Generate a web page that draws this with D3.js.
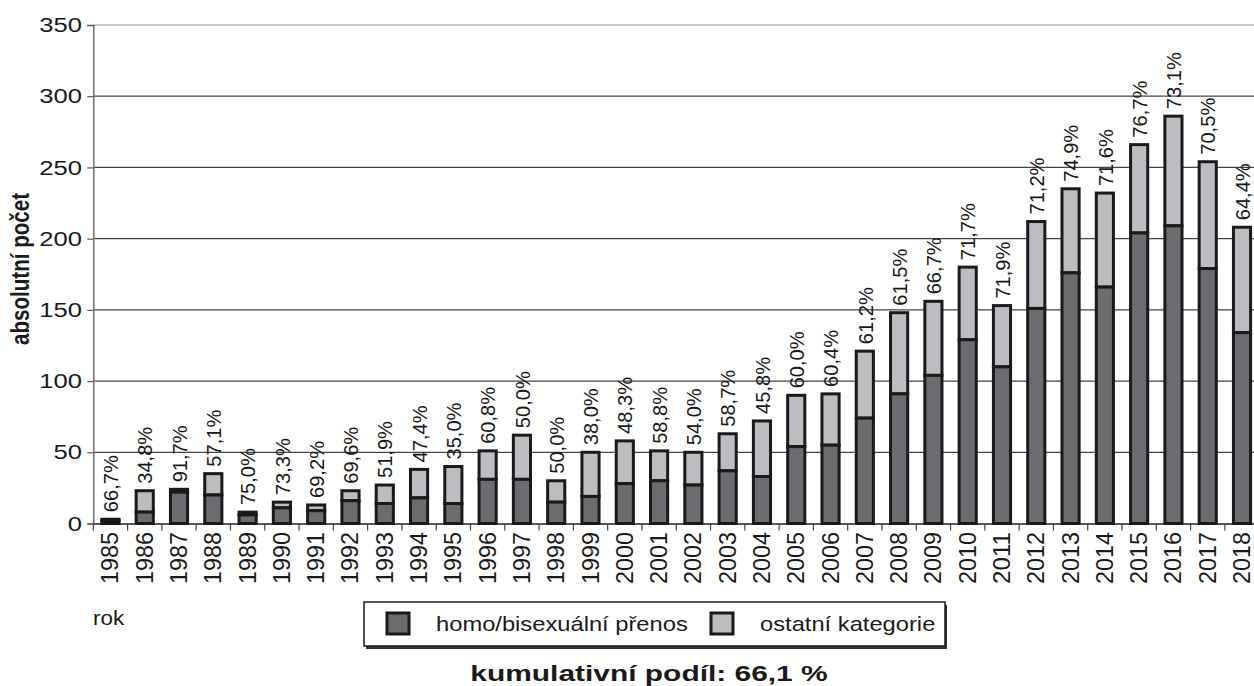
<!DOCTYPE html>
<html><head><meta charset="utf-8">
<script src="https://cdn.jsdelivr.net/npm/d3@7"></script>
<style>
html,body{margin:0;padding:0;background:#fff;}
svg{display:block;font-family:"Liberation Sans",Arial,sans-serif;}
</style></head>
<body><svg id="c" width="1254" height="686"></svg>
<script>
const years = ["1985","1986","1987","1988","1989","1990","1991","1992","1993","1994","1995","1996","1997","1998","1999","2000","2001","2002","2003","2004","2005","2006","2007","2008","2009","2010","2011","2012","2013","2014","2015","2016","2017","2018"];
const homo = [2,8,22,20,6,11,9,16,14,18,14,31,31,15,19,28,30,27,37,33,54,55,74,91,104,129,110,151,176,166,204,209,179,134];
const other = [1,15,2,15,2,4,4,7,13,20,26,20,31,15,31,30,21,23,26,39,36,36,47,57,52,51,43,61,59,66,62,77,75,74];
const shareLabels = ["66,7%","34,8%","91,7%","57,1%","75,0%","73,3%","69,2%","69,6%","51,9%","47,4%","35,0%","60,8%","50,0%","50,0%","38,0%","48,3%","58,8%","54,0%","58,7%","45,8%","60,0%","60,4%","61,2%","61,5%","66,7%","71,7%","71,9%","71,2%","74,9%","71,6%","76,7%","73,1%","70,5%","64,4%"];
const yTicks = [0,50,100,150,200,250,300,350];
const seriesNames = ["homo/bisexuální přenos","ostatní kategorie"];
const colors = ["#6b6c70","#bcbdc1"];

const svg = d3.select("#c");
const left = 93.3, step = 34.29;
const x = d3.scaleBand().domain(years).range([left, left + step*years.length]).paddingInner(0.5).paddingOuter(0.25);
const y = d3.scaleLinear().domain([0,350]).range([523.5,25]);

function txt(g, px, py, str, opt){
  const sx = opt.sx||1;
  const t = g.append("g").attr("transform",`translate(${px},${py}) scale(${sx},1)` + (opt.rot?` rotate(${opt.rot})`:""))
    .append("text").text(str)
    .attr("font-size",opt.size).attr("fill","#1a1a1a")
    .attr("text-anchor",opt.anchor||"start")
    .attr("dominant-baseline",opt.baseline||"auto");
  if(opt.bold) t.attr("font-weight","bold");
  if(opt.len) t.attr("textLength",opt.len).attr("lengthAdjust","spacingAndGlyphs");
  return t;
}

// gridlines
svg.append("g").selectAll("line").data(yTicks.filter(d=>d>0)).join("line")
  .attr("x1",left).attr("x2",1254).attr("y1",d=>y(d)).attr("y2",d=>y(d))
  .attr("stroke",d=>d===350?"#c8c8c8":"#444").attr("stroke-width",d=>d===350?2:1.2);

// y axis
const ya = svg.append("g").attr("transform",`translate(${left},0)`)
  .call(d3.axisLeft(y).tickValues(yTicks).tickSize(6).tickFormat(""));
ya.select(".domain").attr("stroke","#707070").attr("stroke-width",1.5);
ya.selectAll(".tick line").attr("stroke","#555").attr("stroke-width",1.2);
yTicks.forEach(v=>txt(svg,82,y(v),String(v),{size:21,sx:1.22,anchor:"end",baseline:"central"}));

// x axis
const xa = svg.append("g").attr("transform",`translate(0,${y(0)})`)
  .call(d3.axisBottom(x).tickSize(0).tickFormat(""));
xa.select(".domain").attr("stroke","#222").attr("stroke-width",1.5);
svg.append("g").selectAll("line").data(d3.range(years.length+1)).join("line")
  .attr("x1",i=>left+i*step).attr("x2",i=>left+i*step)
  .attr("y1",y(0)).attr("y2",y(0)+7).attr("stroke","#444").attr("stroke-width",1.2);

// bars
const bw = x.bandwidth();
const bars = svg.append("g");
years.forEach((yr,i)=>{
  const total = homo[i]+other[i];
  bars.append("rect").attr("x",x(yr)).attr("width",bw)
    .attr("y",y(total)).attr("height",y(homo[i])-y(total))
    .attr("fill",colors[1]).attr("stroke","#1a1a1a").attr("stroke-width",3);
  bars.append("rect").attr("x",x(yr)).attr("width",bw)
    .attr("y",y(homo[i])).attr("height",y(0)-y(homo[i]))
    .attr("fill",colors[0]).attr("stroke","#1a1a1a").attr("stroke-width",3);
  const cx = x(yr)+bw/2;
  txt(svg,cx,y(total)-7,shareLabels[i],{size:20,sx:1.05,rot:-90,baseline:"central",len:57});
  txt(svg,cx,532,yr,{size:23.5,sx:1.0,rot:-90,anchor:"end",baseline:"central",len:52});
});

// axis titles
txt(svg,20,269,"absolutní počet",{size:21,sx:1.2,rot:-90,anchor:"middle",baseline:"central",bold:true,len:152});
txt(svg,93,625,"rok",{size:20,sx:1.12});

// legend
svg.append("rect").attr("x",366).attr("y",605).attr("width",581).attr("height",44).attr("fill","#333");
svg.append("rect").attr("x",364).attr("y",602).attr("width",581).attr("height",44).attr("fill","#fff").attr("stroke","#1a1a1a").attr("stroke-width",1.5);
const legX = [387, 711];
seriesNames.forEach((n,i)=>{
  svg.append("rect").attr("x",legX[i]).attr("y",613).attr("width",22).attr("height",21)
    .attr("fill",colors[i]).attr("stroke","#1a1a1a").attr("stroke-width",3);
  txt(svg,legX[i]+49,624,n,{size:21,sx:1.13,baseline:"central"});
});

txt(svg,649,681,"kumulativní podíl: 66,1 %",{size:22,sx:1.36,anchor:"middle",bold:true});
</script></body></html>
